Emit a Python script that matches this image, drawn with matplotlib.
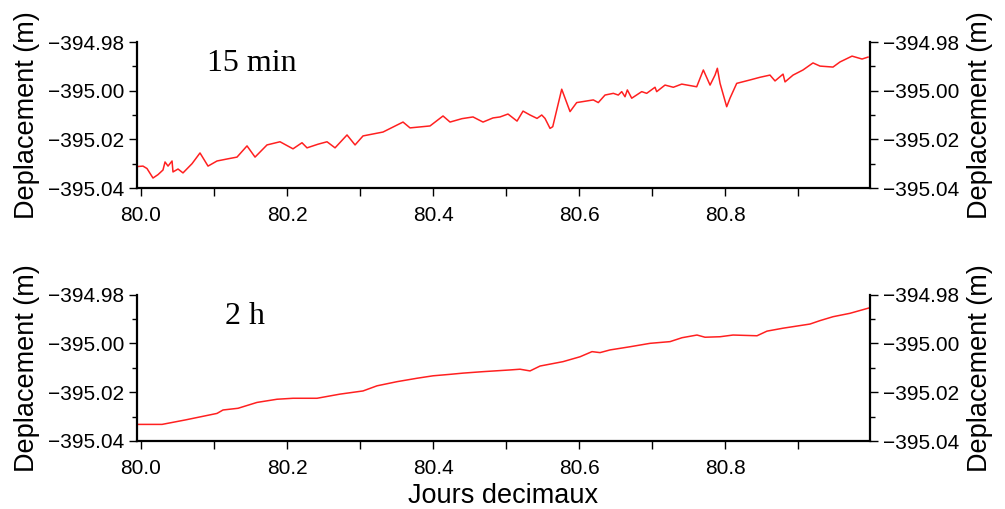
import matplotlib
matplotlib.use("Agg")
import matplotlib.pyplot as plt
from matplotlib.ticker import MultipleLocator, FuncFormatter

plt.rcParams['font.family'] = ['Liberation Sans', 'DejaVu Sans']
plt.rcParams['axes.unicode_minus'] = True

# 15 min series (decimal day, displacement m)
days_15min = [79.9945, 80.0027, 80.0082, 80.0164, 80.0233, 80.0301, 80.0329, 80.0370,
              80.0425, 80.0438, 80.0507, 80.0575, 80.0699, 80.0808, 80.0918, 80.1041,
              80.1192, 80.1315, 80.1452, 80.1562, 80.1726, 80.1904, 80.2082, 80.2205,
              80.2274, 80.2425, 80.2548, 80.2658, 80.2822, 80.2932, 80.3041, 80.3315,
              80.3589, 80.3685, 80.3959, 80.4137, 80.4233, 80.4397, 80.4548, 80.4685,
              80.4822, 80.4918, 80.5027, 80.5151, 80.5233,
              80.5329, 80.5425, 80.5489, 80.5534, 80.5603, 80.5640, 80.5763, 80.5877,
              80.5968, 80.6196, 80.6264, 80.6356, 80.6470, 80.6538, 80.6585, 80.6630,
              80.6662, 80.6722, 80.6859, 80.6927, 80.7041, 80.7064, 80.7178, 80.7292,
              80.7407, 80.7612, 80.7703, 80.7795, 80.7863, 80.7895, 80.7932, 80.8023,
              80.8068, 80.8160, 80.8342, 80.8479,
              80.8616, 80.8685, 80.8795, 80.8822, 80.8932,
              80.9068, 80.9205, 80.9301, 80.9479, 80.9575, 80.9740, 80.9877, 80.9959]
disp_15min = [-395.0312, -395.0310, -395.0320, -395.0359, -395.0345, -395.0326, -395.0293, -395.0310,
              -395.0289, -395.0334, -395.0322, -395.0338, -395.0300, -395.0256, -395.0310, -395.0289,
              -395.0280, -395.0273, -395.0227, -395.0273, -395.0223, -395.0210, -395.0239, -395.0214,
              -395.0235, -395.0220, -395.0210, -395.0235, -395.0182, -395.0223, -395.0186, -395.0170,
              -395.0129, -395.0153, -395.0145, -395.0104, -395.0129, -395.0115, -395.0108, -395.0129,
              -395.0112, -395.0108, -395.0096, -395.0125, -395.0084,
              -395.0100, -395.0114, -395.0100, -395.0114, -395.0155, -395.0148, -394.9994, -395.0086,
              -395.0049, -395.0038, -395.0049, -395.0018, -395.0011, -395.0018, -395.0004, -395.0025,
              -394.9997, -395.0031, -395.0004, -395.0011, -394.9986, -395.0004, -394.9977, -394.9986,
              -394.9973, -394.9984, -394.9915, -394.9977, -394.9936, -394.9908, -394.9970, -395.0066,
              -395.0031, -394.9970, -394.9956, -394.9945,
              -394.9936, -394.9960, -394.9932, -394.9964, -394.9936,
              -394.9915, -394.9886, -394.9899, -394.9903, -394.9882, -394.9858, -394.9870, -394.9862]

# 2 h series
days_2h = [79.9945, 80.0288, 80.0603, 80.1041, 80.1123, 80.1329, 80.1589, 80.1863,
           80.2082, 80.2411, 80.2726, 80.3041, 80.3233, 80.3507, 80.3781, 80.4000,
           80.4233, 80.4411, 80.4685, 80.5055, 80.5192, 80.5329, 80.5466, 80.5781,
           80.6014, 80.6178, 80.6288, 80.6425, 80.6699, 80.6973, 80.7247, 80.7411,
           80.7616, 80.7726, 80.7932, 80.8110, 80.8438, 80.8575, 80.8795, 80.9164,
           80.9301, 80.9479, 80.9712, 80.9986]
disp_2h = [-395.0332, -395.0332, -395.0314, -395.0287, -395.0273, -395.0266, -395.0242, -395.0229,
           -395.0225, -395.0225, -395.0208, -395.0195, -395.0174, -395.0157, -395.0143, -395.0133,
           -395.0127, -395.0122, -395.0116, -395.0109, -395.0106, -395.0113, -395.0093, -395.0075,
           -395.0055, -395.0034, -395.0038, -395.0027, -395.0014, -395.0000, -394.9993, -394.9977,
           -394.9966, -394.9975, -394.9973, -394.9966, -394.9969, -394.9950, -394.9938, -394.9921,
           -394.9907, -394.9891, -394.9877, -394.9854]

panel_labels = ["15 min", "2 h"]
ylabel = "Deplacement (m)"
xlabel = "Jours decimaux"

fig = plt.figure(figsize=(10.05, 5.09), dpi=100)
W, H = 1005, 509
boxes = [(137, 42, 870, 188), (137, 294.5, 870, 441)]
series = [(days_15min, disp_15min), (days_2h, disp_2h)]
label_pos = [(80.090, -394.9919), (80.115, -394.9922)]

fmt_y = FuncFormatter(lambda v, p: ("%.2f" % v).replace("-", "\u2212"))
fmt_x = FuncFormatter(lambda v, p: "%.1f" % v)


def style_y(a):
    a.yaxis.set_major_locator(MultipleLocator(0.02))
    a.yaxis.set_minor_locator(MultipleLocator(0.01))
    a.yaxis.set_major_formatter(fmt_y)
    a.tick_params(axis='y', which='major', direction='out', length=6, width=1.0,
                  labelsize=15, pad=3)
    a.tick_params(axis='y', which='minor', direction='out', length=3.5, width=1.0)


for (x0, y0, x1, y1), (xd, yd), lab, lp in zip(boxes, series, panel_labels, label_pos):
    ax = fig.add_axes([x0 / W, (H - y1) / H, (x1 - x0) / W, (y1 - y0) / H])
    ax.plot(xd, yd, color='#ff2020', lw=1.1)
    ax.set_xlim(79.9945, 80.9986)
    ax.set_ylim(-395.04, -394.98)
    ax.spines['top'].set_visible(False)
    ax.spines['right'].set_visible(False)
    for s in ['left', 'bottom']:
        ax.spines[s].set_linewidth(1.6)
    ax.xaxis.set_major_locator(MultipleLocator(0.2))
    ax.xaxis.set_minor_locator(MultipleLocator(0.1))
    ax.xaxis.set_major_formatter(fmt_x)
    ax.tick_params(axis='x', which='major', direction='out', length=6, width=1.0,
                   labelsize=15, pad=7)
    ax.tick_params(axis='x', which='minor', direction='out', length=6, width=1.0)
    style_y(ax)
    ax.set_ylabel(ylabel, fontsize=19.5, labelpad=6)

    ax2 = ax.twinx()
    ax2.set_ylim(-395.04, -394.98)
    for s in ['top', 'left', 'bottom']:
        ax2.spines[s].set_visible(False)
    ax2.spines['right'].set_linewidth(1.6)
    style_y(ax2)
    ax2.set_ylabel(ylabel, fontsize=19.5, labelpad=6)

    ax.text(lp[0], lp[1], lab, fontsize=23, family=['Liberation Serif', 'DejaVu Serif'],
            ha='left', va='baseline')

fig.text((137 + 870) / 2 / W, (H - 496) / H, xlabel, fontsize=19.5, ha='center', va='center')

fig.savefig("out.png", dpi=100)
